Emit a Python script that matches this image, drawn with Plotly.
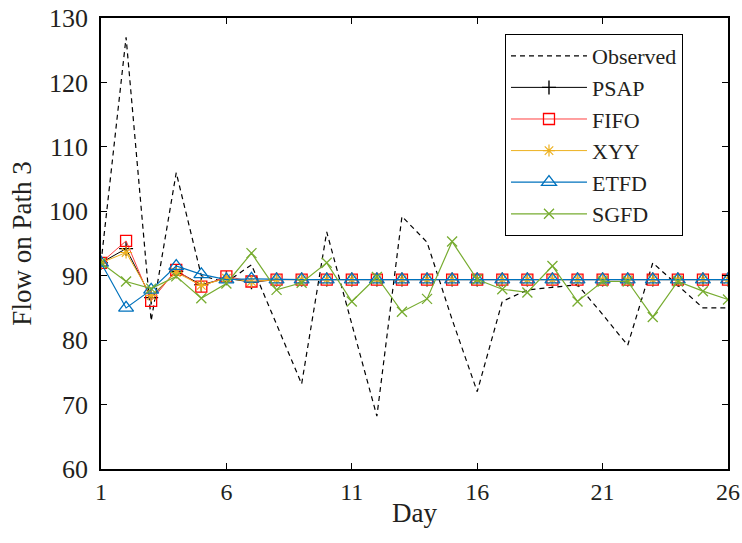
import plotly.graph_objects as go

days = list(range(1, 27))
observed = [92, 127, 83, 106, 90, 89, 91.7, 82.5, 73.2, 96.8, 82.5, 68.2, 99.2, 95.2, 83.2, 72,
            86, 87.8, 88.2, 88.6, 84, 79.2, 92, 88.5, 85, 85]
psap = [92, 94.2, 86.6, 90.7, 88.6, 89.6, 89.0] + [89.4] * 19
fifo = [92, 95.4, 86.1, 90.9, 88.3, 89.9, 89.1] + [89.4] * 19
xyy = [92, 93.6, 86.9, 90.5, 88.5, 89.6, 89.1] + [89.4] * 19
etfd = [92, 85.0, 87.8, 91.5, 90.2, 89.4, 89.5] + [89.4] * 19
sgfd = [92, 89.1, 88.0, 89.9, 86.5, 88.8, 93.5, 87.8, 88.9, 92.0, 86.0, 89.8, 84.4, 86.4, 95.3,
        89.4, 87.9, 87.4, 91.5, 86.0, 89.1, 89.1, 83.6, 89.1, 87.6, 86.3]

font = "Liberation Serif, Times New Roman, serif"
txt = "#231f20"

fig = go.Figure()
fig.add_trace(go.Scatter(x=days, y=observed, name="Observed", mode="lines",
                         line=dict(color="black", width=1.2, dash="5px,4px")))
fig.add_trace(go.Scatter(x=days, y=psap, name="PSAP", mode="lines+markers",
                         line=dict(color="black", width=1),
                         marker=dict(symbol="cross-thin-open", size=10, color="black",
                                     line=dict(width=1.4, color="black"))))
fig.add_trace(go.Scatter(x=days, y=fifo, name="FIFO", mode="lines+markers",
                         line=dict(color="#ff4040", width=1),
                         marker=dict(symbol="square-open", size=11, color="#ff0000",
                                     line=dict(width=1.3, color="#ff0000"))))
fig.add_trace(go.Scatter(x=days, y=xyy, name="XYY", mode="lines+markers",
                         line=dict(color="#EDB120", width=1),
                         marker=dict(symbol="asterisk-open", size=10, color="#EDB120",
                                     line=dict(width=1.2, color="#EDB120"))))
fig.add_trace(go.Scatter(x=days, y=etfd, name="ETFD", mode="lines+markers",
                         line=dict(color="#0072BD", width=1.2),
                         marker=dict(symbol="triangle-up-open", size=13, color="#0072BD",
                                     line=dict(width=1.3, color="#0072BD"))))
fig.add_trace(go.Scatter(x=days, y=sgfd, name="SGFD", mode="lines+markers",
                         line=dict(color="#77AC30", width=1.2),
                         marker=dict(symbol="x-thin-open", size=10, color="#77AC30",
                                     line=dict(width=1.3, color="#77AC30"))))

axis_common = dict(showline=True, linecolor="black", linewidth=1.5, mirror="ticks",
                   ticks="inside", ticklen=6, tickcolor="black", tickwidth=1,
                   showgrid=False, zeroline=False, automargin=False,
                   ticklabeloverflow="allow",
                   title_font=dict(family=font, size=27, color=txt))

fig.update_layout(
    width=742, height=543,
    margin=dict(l=101, r=14, t=18, b=74),
    paper_bgcolor="white", plot_bgcolor="white",
    xaxis=dict(range=[1, 26], tickvals=[1, 6, 11, 16, 21, 26], ticklabelstandoff=0,
               tickfont=dict(family=font, size=24, color=txt),
               title=dict(text="Day", standoff=0), **axis_common),
    yaxis=dict(range=[60, 130], dtick=10, ticklabelstandoff=6,
               tickfont=dict(family=font, size=26, color=txt),
               title=dict(text="Flow on Path 3", standoff=10), **axis_common),
    legend=dict(x=0.644, y=0.965, xanchor="left", yanchor="top",
                bgcolor="white", bordercolor="black", borderwidth=1.2,
                font=dict(family=font, size=22, color=txt), itemwidth=76,
                tracegroupgap=0),
    showlegend=True,
)

fig.write_html("out.html")
